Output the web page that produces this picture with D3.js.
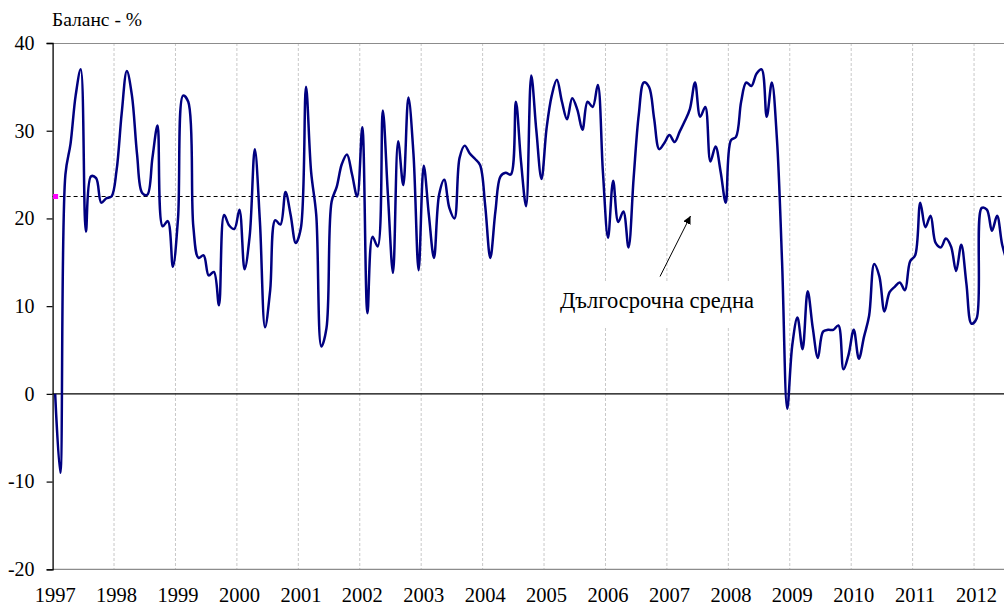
<!DOCTYPE html>
<html>
<head>
<meta charset="utf-8">
<script src="https://cdn.jsdelivr.net/npm/d3@7"></script>
<style>
  html, body { margin: 0; padding: 0; background: #fff; }
  svg { display: block; }
  text { font-family: "Liberation Serif", "Times New Roman", serif; fill: #000; }
</style>
</head>
<body>
<svg id="chart" width="1004" height="606"></svg>
<script>
// ---- Data (monthly balance, %, Jan 1997 – Jul 2012) ----
const startYear = 1997;
const years = [1997, 1998, 1999, 2000, 2001, 2002, 2003, 2004, 2005, 2006, 2007, 2008, 2009, 2010, 2011, 2012];
const yTicks = [-20, -10, 0, 10, 20, 30, 40];
const balance = [
  0, -9, 25, 28.5, 34, 37, 18.5, 24.8, 24.6, 21.8, 22.3, 22.5,
  25.5, 32, 36.8, 34, 27.3, 22.9, 22.7, 26.9, 30.6, 19.1, 19.7, 14.5,
  20, 34, 33.3, 19, 15.5, 15.8, 13.5, 13.9, 10.1, 20.4, 19.2, 18.8,
  21, 14.2, 18, 27.9, 19.6, 7.6, 11.8, 19.8, 19.3, 23, 20.4, 17.2,
  18.9, 35, 25.3, 20.4, 5.4, 7.5, 21.9, 23.6, 26.2, 27.3, 25, 22.5,
  30.4, 9.2, 17.9, 16.8, 32.3, 22.7, 13.8, 28.8, 23.8, 33.8, 27.3, 14.1,
  26, 20.4, 15.5, 22.7, 24.4, 21.2, 20, 26.9, 28.3, 27.4, 26.8, 26.1,
  21.5, 15.5, 20.8, 24.8, 25.2, 25, 33.3, 26.5, 21.4, 36.3, 30, 24.5,
  30.3, 34, 35.8, 33.3, 31.3, 33.7, 32.4, 30.1, 33.3, 32.7, 35.2, 25.3,
  17.8, 24.3, 19.6, 20.8, 16.7, 24.6, 31.8, 35.5, 35, 31.4, 27.9, 28.6,
  29.5, 28.7, 29.9, 31.1, 32.5, 35.5, 31.6, 32.7, 26.5, 28.2, 25.3, 21.8,
  28.9, 29.3, 33.3, 35.5, 35.1, 36.5, 37, 31.6, 35.5, 29, 15, -1.7,
  5.6, 8.7, 5.1, 11.7, 7.5, 4.1, 7.1, 7.3, 7.3, 7.8, 2.8, 4.5,
  7.3, 4, 6.5, 8.9, 14.8, 13.4, 9.4, 11.6, 12.2, 12.7, 11.8, 15.1,
  15.8, 21.8, 19.0, 20.3, 17.2, 16.7, 17.7, 16.8, 14, 17, 12.6, 8,
  8.6, 21.2, 21, 18.6, 20.3, 17, 15
];
const longTermAverage = 22.5;
const yAxisTitle = "Баланс - %";
const annotationText = "Дългосрочна средна";

// ---- Layout ----
const svg = d3.select("#chart");
const plotLeft = 52.6, plotTop = 43, plotBottom = 569.3;
const monthW = 61.43 / 12;
const totalMonths = 16 * 12;

const x = d3.scaleLinear().domain([0, totalMonths]).range([plotLeft, plotLeft + totalMonths * monthW]);
const y = d3.scaleLinear().domain([-20, 40]).range([plotBottom, plotTop]);
const plotRight = x(totalMonths);

// vertical dotted gridlines at each year start
svg.append("g").selectAll("line").data(years.slice(1)).join("line")
  .attr("x1", d => x((d - startYear) * 12)).attr("x2", d => x((d - startYear) * 12))
  .attr("y1", plotTop).attr("y2", plotBottom)
  .attr("stroke", "#c8c8c8").attr("stroke-width", 1).attr("stroke-dasharray", "3,2");

// top border (gray)
svg.append("line").attr("x1", plotLeft).attr("x2", plotRight).attr("y1", plotTop + 0.5).attr("y2", plotTop + 0.5)
  .attr("stroke", "#8c8c8c").attr("stroke-width", 1);
// bottom axis line (gray)
svg.append("line").attr("x1", plotLeft).attr("x2", plotRight).attr("y1", plotBottom).attr("y2", plotBottom)
  .attr("stroke", "#8c8c8c").attr("stroke-width", 1.3);
// zero line
svg.append("line").attr("x1", plotLeft).attr("x2", plotRight).attr("y1", y(0)).attr("y2", y(0))
  .attr("stroke", "#000").attr("stroke-width", 1.2);

// y axis
const yAxis = d3.axisLeft(y).tickValues(yTicks).tickSize(6).tickPadding(12).tickFormat(d => String(d));
const gy = svg.append("g").attr("transform", `translate(${plotLeft},0)`).call(yAxis);
gy.select(".domain").attr("stroke", "#000").attr("stroke-width", 1.3);
gy.selectAll(".tick line").attr("stroke", "#000").attr("stroke-width", 1.2);
gy.selectAll(".tick text").attr("font-size", "20px").attr("font-family", "Liberation Serif").attr("fill", "#000");

// x labels (at January of each year)
svg.append("g").selectAll("text").data(years).join("text")
  .attr("x", d => x((d - startYear) * 12 + 0.5))
  .attr("y", 602)
  .attr("text-anchor", "middle")
  .attr("font-size", "20.5px")
  .text(d => d);

// long-term average dashed line
svg.append("line")
  .attr("x1", plotLeft).attr("x2", plotRight)
  .attr("y1", y(longTermAverage)).attr("y2", y(longTermAverage))
  .attr("stroke", "#000").attr("stroke-width", 1).attr("stroke-dasharray", "4,3");
svg.append("rect")
  .attr("x", plotLeft + 0.5).attr("y", y(longTermAverage) - 2.5)
  .attr("width", 5).attr("height", 5).attr("fill", "#ff00ff");

// annotation box + text
svg.append("rect").attr("x", 552).attr("y", 282).attr("width", 215).attr("height", 45).attr("fill", "#fff");
svg.append("text").attr("x", 560).attr("y", 308).attr("font-size", "22.5px").text(annotationText);

// arrow
const defs = svg.append("defs");
defs.append("marker").attr("id", "arrowhead").attr("viewBox", "0 0 10 10")
  .attr("refX", 10).attr("refY", 5).attr("markerWidth", 8).attr("markerHeight", 8)
  .attr("orient", "auto").attr("markerUnits", "userSpaceOnUse")
  .append("path").attr("d", "M0,0 L10,5 L0,10 z").attr("fill", "#000");
svg.append("line").attr("x1", 660).attr("y1", 276.5).attr("x2", 690.5).attr("y2", 216)
  .attr("stroke", "#000").attr("stroke-width", 1).attr("marker-end", "url(#arrowhead)");

// main line
const line = d3.line()
  .x((d, i) => x(i + 0.5))
  .y(d => y(d))
  .curve(d3.curveCatmullRom.alpha(0.5));
svg.append("path").datum(balance)
  .attr("d", line)
  .attr("fill", "none")
  .attr("stroke", "#000080")
  .attr("stroke-width", 2.5)
  .attr("stroke-linejoin", "round");

// y axis title
svg.append("text").attr("x", 52).attr("y", 26).attr("font-size", "19.5px").text(yAxisTitle);
</script>
</body>
</html>
